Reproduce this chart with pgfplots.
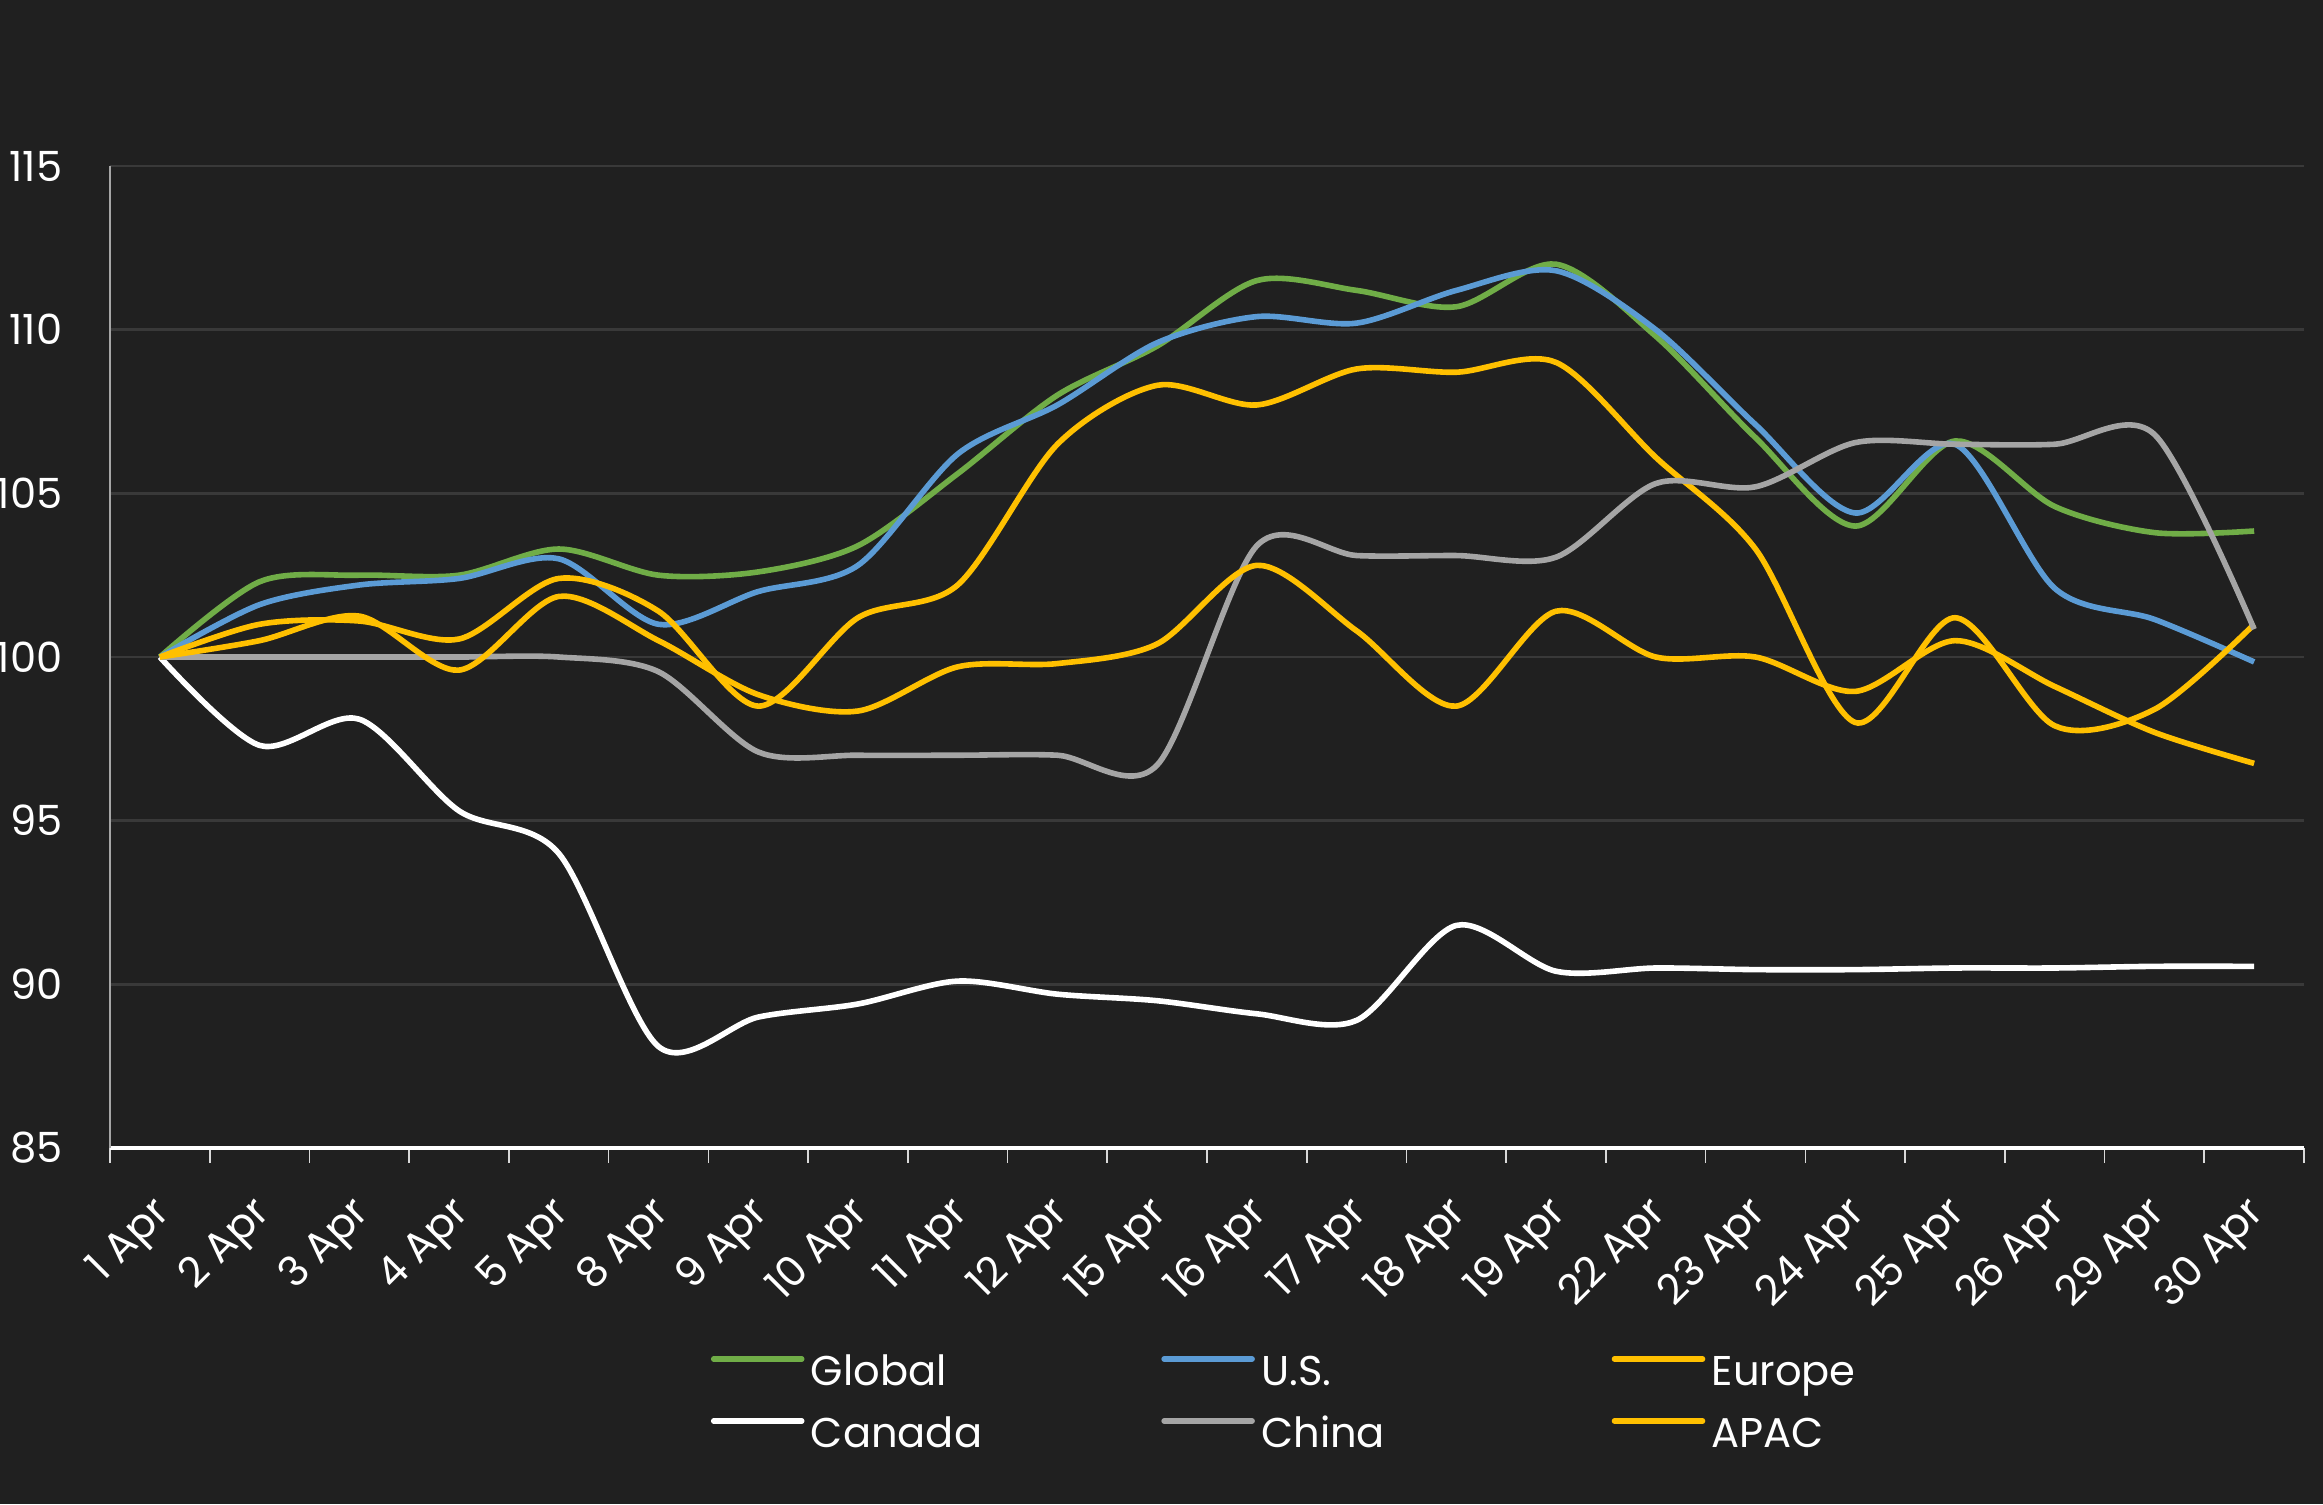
\documentclass[border=0pt]{standalone}
\usepackage{pgfplots}
\pgfplotsset{compat=1.18}
\usepackage{fontspec}
\setmainfont{Poppins}
\definecolor{bg}{HTML}{202020}
\definecolor{cgreen}{HTML}{70AD47}
\definecolor{cblue}{HTML}{5B9BD5}
\definecolor{cyellow}{HTML}{FFC000}
\definecolor{cgray}{HTML}{A5A5A5}
\definecolor{gridc}{HTML}{393939}
\begin{document}
\begin{tikzpicture}
\fill[bg] (-27.5pt,-89pt) rectangle (553.25pt,287pt);
\begin{axis}[
  scale only axis, width=548.5pt, height=245.5pt,
  xmin=-0.5, xmax=21.5, ymin=85, ymax=115,
  axis x line*=bottom, axis y line*=left,
  x axis line style={white, line width=0.8pt, -},
  y axis line style={white!65!black, line width=0.4pt, -},
  xtick={0,...,21},
  xticklabels={1 Apr,2 Apr,3 Apr,4 Apr,5 Apr,8 Apr,9 Apr,10 Apr,11 Apr,12 Apr,15 Apr,16 Apr,17 Apr,18 Apr,19 Apr,22 Apr,23 Apr,24 Apr,25 Apr,26 Apr,29 Apr,30 Apr},
  minor xtick={-0.5,0.5,...,21.5},
  xtick align=outside,
  major tick length=0pt,
  minor tick length=3.75pt,
  minor x tick style={white!85!black, line width=0.4pt},
  major x tick style={draw=none},
  ytick={85,90,...,115},
  ytick style={draw=none},
  ymajorgrids,
  grid style={gridc, line width=0.6pt},
  /pgf/number format/assume math mode=true,
  every tick label/.append style={text=white, font=\fontsize{10.4}{12.5}\selectfont},
  yticklabel style={inner sep=0pt, xshift=-11.7pt},
  xticklabel style={xshift=1.3pt, yshift=-14.8pt, rotate=45, anchor=east, inner sep=0pt},
  legend columns=3,
  legend cell align=left,
  legend style={at={(0.2739,-0.2071)}, anchor=north west, draw=none, fill=none,
    text=white, font=\fontsize{10.4}{12.5}\selectfont, inner sep=0pt, outer sep=0pt,
    row sep=4.5pt, nodes={inner sep=0pt, text height=8.5pt, text depth=2.5pt},
    /tikz/every odd column/.append style={column sep=1.6pt}},
  legend image code/.code={\draw[#1, line width=1.4pt, line cap=round] (0pt,3.6pt) -- (22pt,3.6pt);},
  every axis plot/.append style={line width=1.4pt, line join=round, smooth, no markers},
]
\addplot[cgreen] coordinates {(0,100) (1,102.3) (2,102.5) (3,102.5) (4,103.3) (5,102.5) (6,102.6) (7,103.4) (8,105.6) (9,108.0) (10,109.5) (11,111.5) (12,111.2) (13,110.7) (14,112.0) (15,109.8) (16,106.7) (17,104.0) (18,106.6) (19,104.6) (20,103.8) (21,103.85)};
\addplot[cblue] coordinates {(0,100) (1,101.6) (2,102.2) (3,102.4) (4,103.0) (5,101.0) (6,102.0) (7,102.8) (8,106.2) (9,107.7) (10,109.6) (11,110.4) (12,110.2) (13,111.2) (14,111.8) (15,110.0) (16,107.1) (17,104.4) (18,106.5) (19,102.1) (20,101.15) (21,99.85)};
\addplot[cyellow] coordinates {(0,100) (1,101.0) (2,101.1) (3,100.55) (4,102.4) (5,101.4) (6,98.5) (7,101.2) (8,102.2) (9,106.5) (10,108.3) (11,107.7) (12,108.8) (13,108.7) (14,109.0) (15,106.1) (16,103.3) (17,98.0) (18,101.2) (19,97.9) (20,98.4) (21,101.0)};
\addplot[white] coordinates {(0,100) (1,97.3) (2,98.1) (3,95.3) (4,94.0) (5,88.1) (6,89.0) (7,89.4) (8,90.1) (9,89.7) (10,89.5) (11,89.1) (12,88.9) (13,91.8) (14,90.4) (15,90.5) (16,90.45) (17,90.45) (18,90.5) (19,90.5) (20,90.55) (21,90.55)};
\addplot[cgray] coordinates {(0,100) (1,100) (2,100) (3,100) (4,100) (5,99.55) (6,97.1) (7,97.0) (8,97.0) (9,97.0) (10,96.7) (11,103.4) (12,103.1) (13,103.1) (14,103.05) (15,105.3) (16,105.2) (17,106.55) (18,106.5) (19,106.5) (20,106.8) (21,100.85)};
\addplot[cyellow] coordinates {(0,100) (1,100.5) (2,101.25) (3,99.6) (4,101.85) (5,100.5) (6,98.85) (7,98.35) (8,99.7) (9,99.8) (10,100.4) (11,102.8) (12,100.8) (13,98.5) (14,101.4) (15,100.0) (16,100.0) (17,98.95) (18,100.5) (19,99.1) (20,97.7) (21,96.75)};
\legend{\makebox[87.6pt][l]{Global},\makebox[87.6pt][l]{U.S.},\makebox[87.6pt][l]{Europe},\makebox[87.6pt][l]{Canada},\makebox[87.6pt][l]{China},\makebox[87.6pt][l]{APAC}}
\end{axis}
\pgfresetboundingbox
\useasboundingbox (-27.5pt,-89pt) rectangle (553.25pt,287pt);
\end{tikzpicture}
\end{document}
